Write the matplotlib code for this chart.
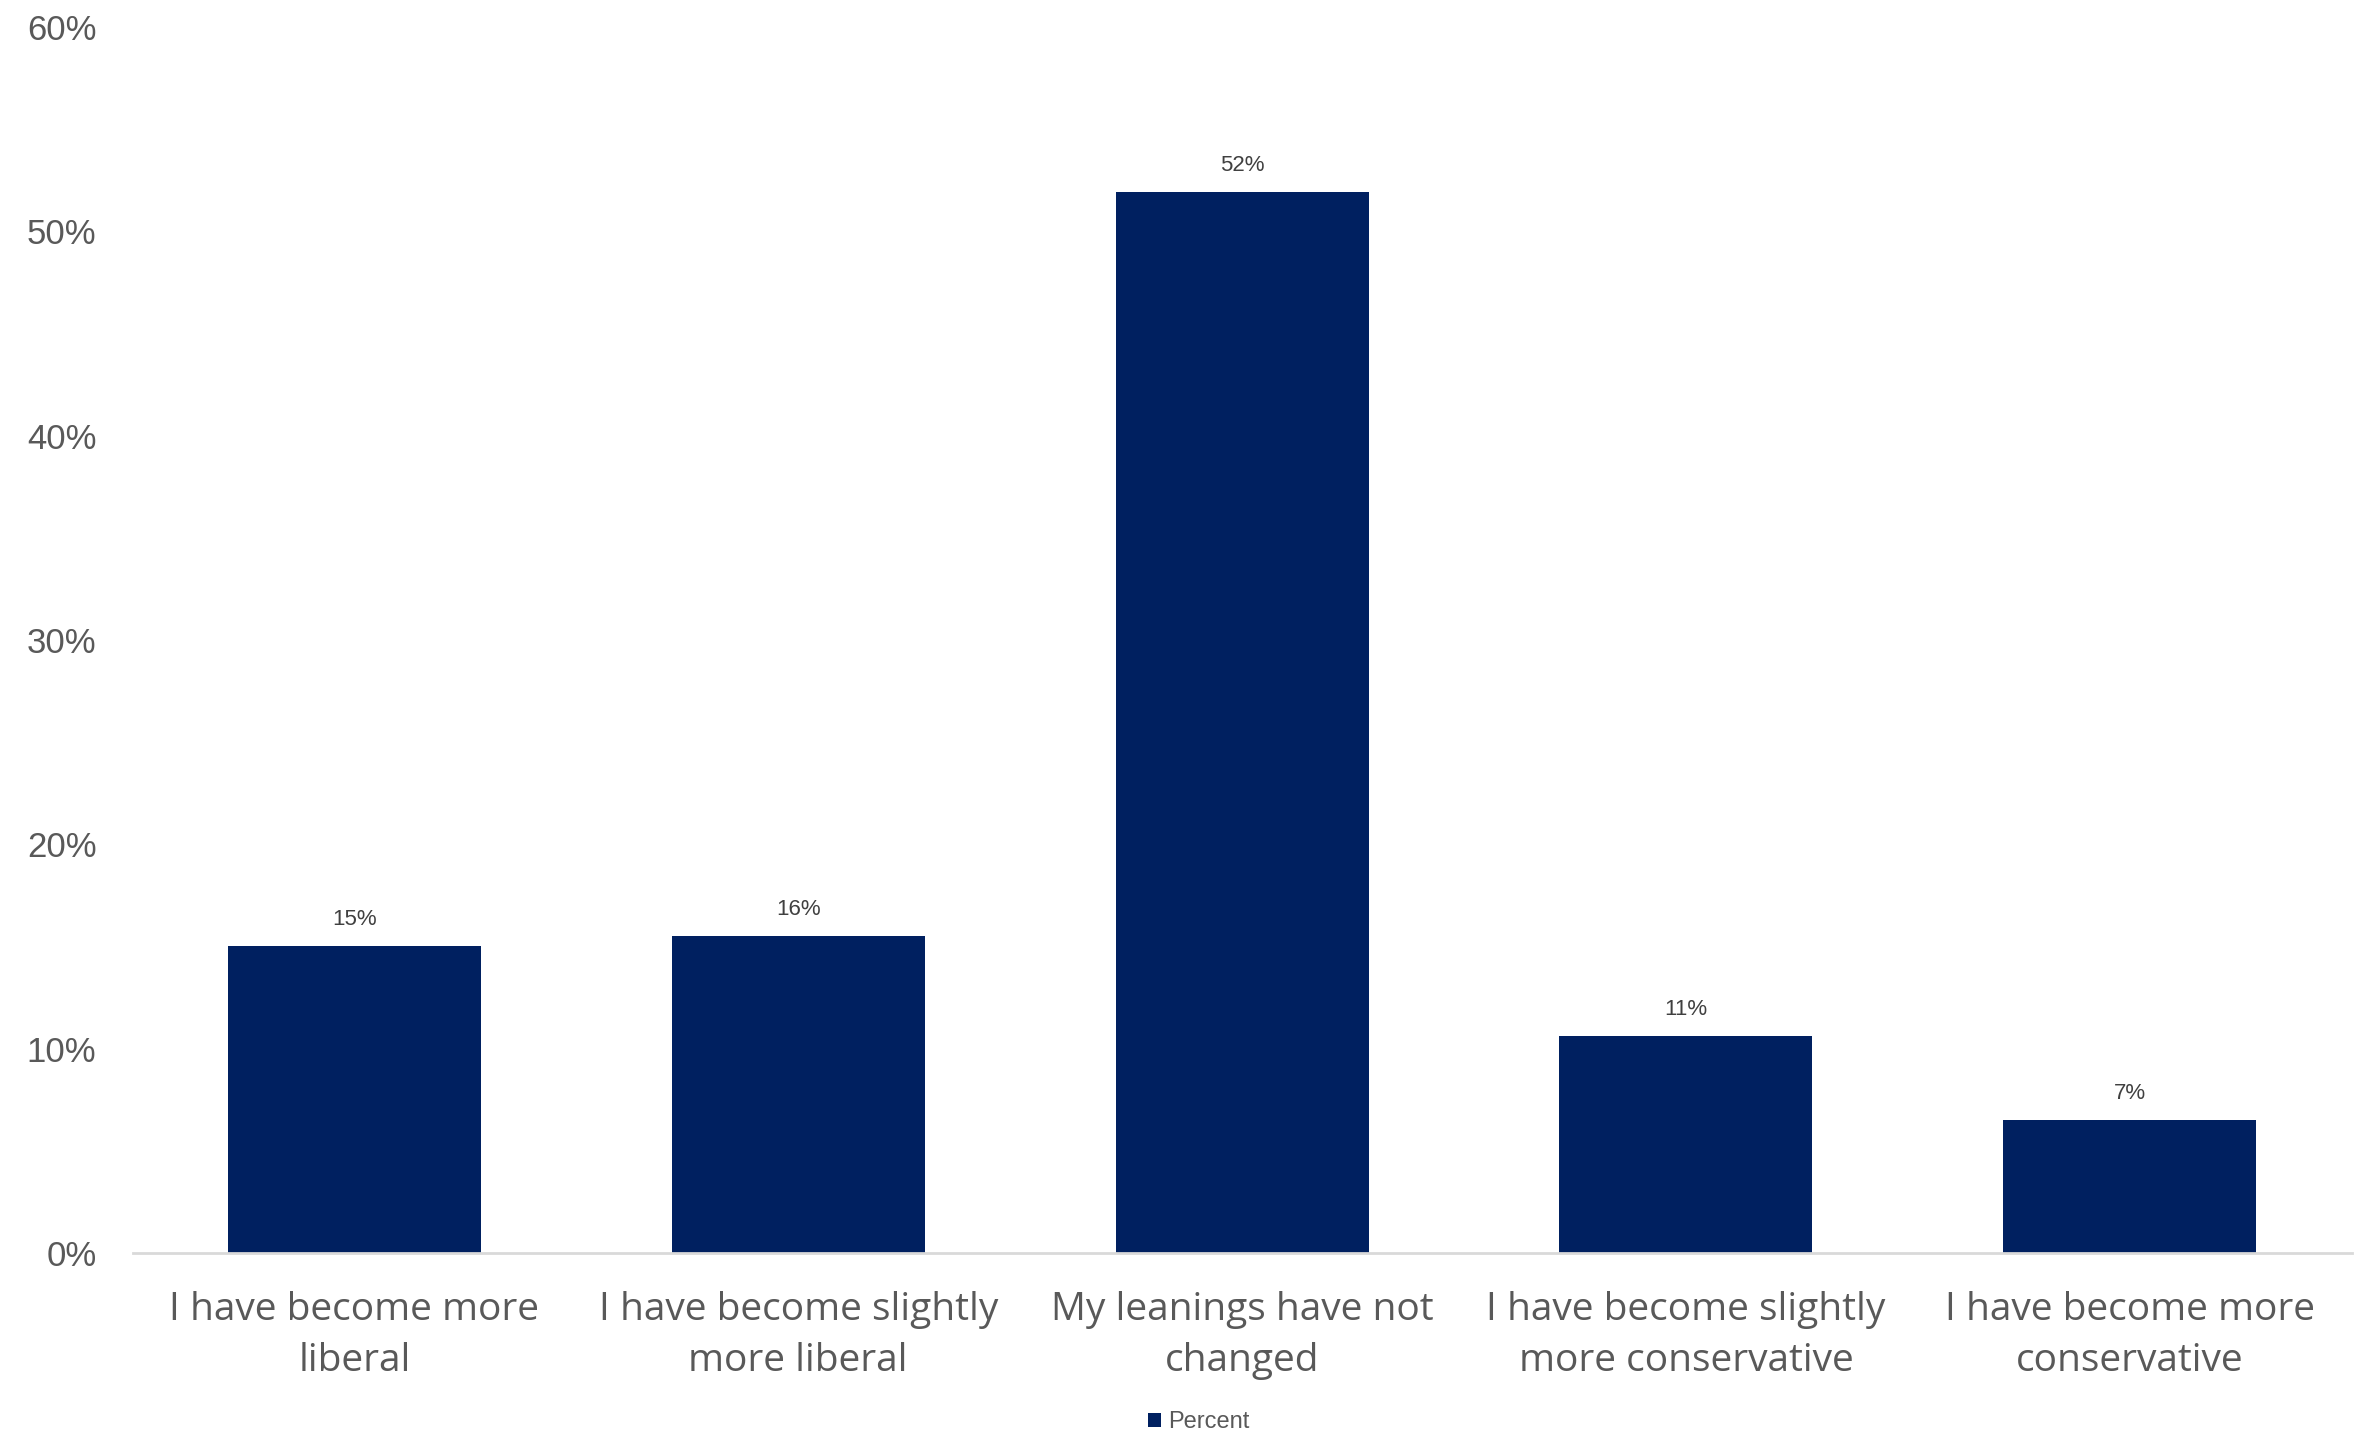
import matplotlib
matplotlib.use("Agg")
import matplotlib.pyplot as plt
from matplotlib.ticker import FuncFormatter, MultipleLocator

categories = ["I have become more\nliberal",
              "I have become slightly\nmore liberal",
              "My leanings have not\nchanged",
              "I have become slightly\nmore conservative",
              "I have become more\nconservative"]
values = [15.0, 15.5, 51.9, 10.6, 6.5]
value_labels = ["15%", "16%", "52%", "11%", "7%"]
series_name = "Percent"

BAR = "#002060"
TXT = "#595959"

fig = plt.figure(figsize=(23.62, 14.33), dpi=100)
ax = fig.add_axes([0.0561, 0.1256, 0.9395, 0.8556])
x = list(range(len(categories)))
bars = ax.bar(x, values, width=0.57, color=BAR, label=series_name, zorder=2)

ax.set_xlim(-0.5, len(categories) - 0.5)
ax.set_ylim(0, 60)
ax.yaxis.set_major_locator(MultipleLocator(10))
ax.yaxis.set_major_formatter(FuncFormatter(lambda v, p: f"{v:.0f}%"))

for s in ["top", "right", "left"]:
    ax.spines[s].set_visible(False)
ax.spines["bottom"].set_color("#d9d9d9")
ax.spines["bottom"].set_linewidth(2)
ax.tick_params(axis="both", length=0)
ax.tick_params(axis="y", pad=26, labelsize=25, labelcolor=TXT)
for t in ax.get_yticklabels():
    t.set_fontfamily("Liberation Sans")

ax.set_xticks(x)
ax.set_xticklabels(categories, fontsize=28, color=TXT, family="Open Sans",
                   linespacing=1.46)
ax.tick_params(axis="x", pad=27)

for b, lab in zip(bars, value_labels):
    ax.annotate(lab, (b.get_x() + b.get_width() / 2, b.get_height()),
                xytext=(0, 12), textcoords="offset points",
                ha="center", va="bottom", fontsize=16, color="#404040",
                family="Liberation Sans")

leg = fig.legend(handles=[bars], labels=[series_name], loc="center",
                 bbox_to_anchor=(0.5076, 1 - 1422 / 1433), frameon=False,
                 fontsize=17, handlelength=0.55, handleheight=0.55,
                 handletextpad=0.3, labelcolor=TXT)
for t in leg.get_texts():
    t.set_fontfamily("Liberation Sans")

fig.savefig("out.png", dpi=100, facecolor="white")
